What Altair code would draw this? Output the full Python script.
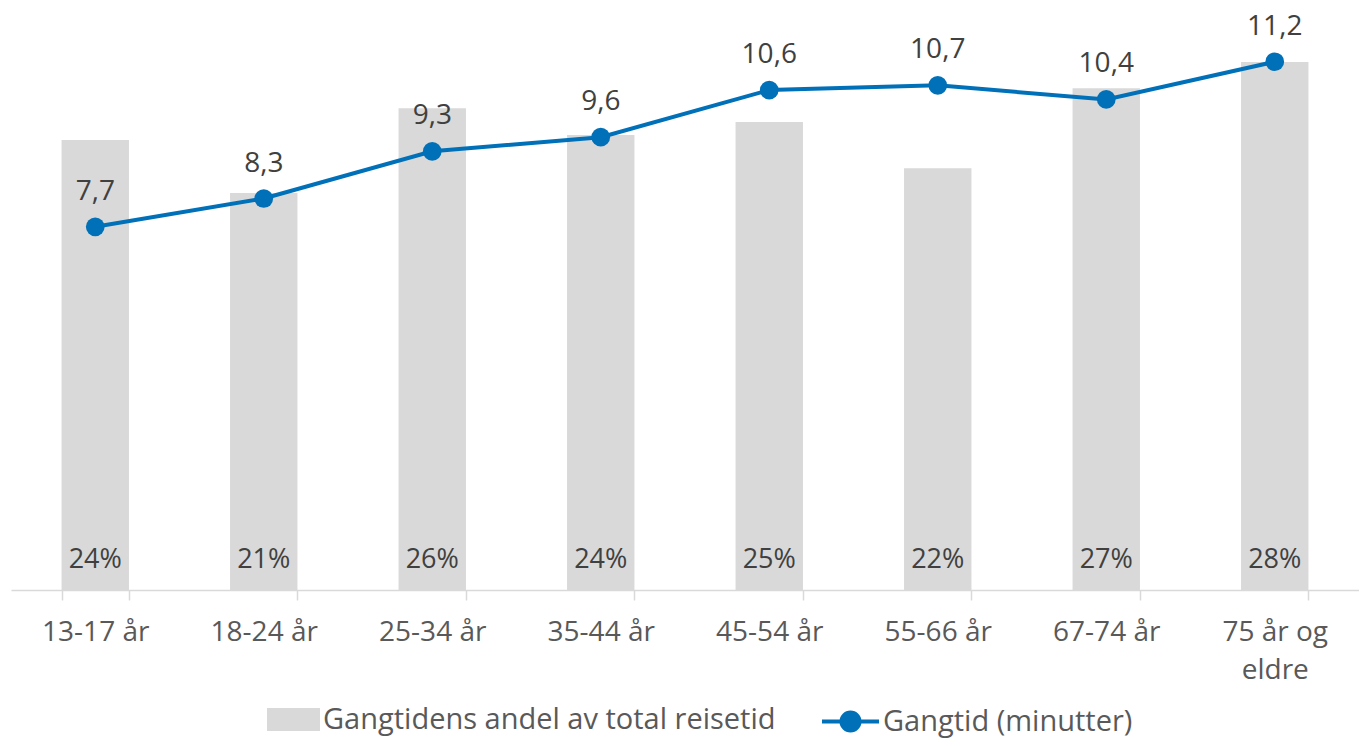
import altair as alt
import pandas as pd

categories = ["13-17 år", "18-24 år", "25-34 år", "35-44 år",
              "45-54 år", "55-66 år", "67-74 år", "75 år og eldre"]
share = [0.2385, 0.2104, 0.2554, 0.2411, 0.2480, 0.2236, 0.2660, 0.2798]
minutes = [7.7, 8.3, 9.3, 9.6, 10.6, 10.7, 10.4, 11.2]

bar_name = "Gangtidens andel av total reisetid"
line_name = "Gangtid (minutter)"

df = pd.DataFrame({"cat": categories, "share": share, "minutes": minutes,
                   "bar_s": bar_name, "line_s": line_name})

FONT = "Open Sans"
TXT = "#404040"
LBL = "#595959"
BLUE = "#0070B8"
GREY = "#D9D9D9"

x = alt.X("cat:N", sort=categories, title=None,
          scale=alt.Scale(paddingInner=0.6, paddingOuter=0.3),
          axis=alt.Axis(labelAngle=0, tickBand="extent", tickSize=10,
                        domainColor=GREY, tickColor=GREY, domainWidth=1.5, tickWidth=1.5,
                        labelFontSize=28, labelColor=LBL, labelFont=FONT,
                        labelPadding=18, labelLineHeight=38,
                        labelExpr="datum.label == '75 år og eldre' ? ['75 år og', 'eldre'] : datum.label"))

ybar = alt.Y("share:Q", scale=alt.Scale(domain=[0, 0.30]), axis=None)
yline = alt.Y("minutes:Q", scale=alt.Scale(domain=[0, 12]), axis=None)

base = alt.Chart(df)

bars = base.mark_bar(color=GREY).encode(
    x=x, y=ybar,
    color=alt.Color("bar_s:N", scale=alt.Scale(range=[GREY]),
                    legend=alt.Legend(title=None, orient="none", legendX=256, legendY=669,
                                      symbolType="M-1,-0.434H1V0.434H-1Z",
                                      symbolSize=2809, symbolStrokeWidth=0, labelLimit=0,
                                      labelOffset=3,
                                      labelFontSize=29, labelFont=FONT, labelColor=LBL)))

bar_text = base.transform_calculate(
    zero="0", lbl="format(datum.share, '.0%')"
).mark_text(font=FONT, fontSize=27, color=TXT, dy=-30).encode(
    x=x, y=alt.Y("zero:Q", scale=alt.Scale(domain=[0, 0.30]), axis=None),
    text="lbl:N")

bar_layer = alt.layer(bars, bar_text)

line = base.mark_line(color=BLUE, strokeWidth=4).encode(
    x=x, y=yline,
    stroke=alt.Stroke("line_s:N", scale=alt.Scale(range=[BLUE]),
                      legend=alt.Legend(title=None, orient="none", legendX=809, legendY=667,
                                        symbolType="M-1,0H1M-0.316,0A0.316,0.316 0 1,1 0.316,0A0.316,0.316 0 1,1 -0.316,0Z",
                                        symbolFillColor=BLUE, symbolStrokeWidth=4, symbolSize=3249,
                                        labelLimit=0, labelOffset=2,
                                        labelFontSize=29, labelFont=FONT, labelColor=LBL)))
points = base.mark_circle(color=BLUE, size=350, opacity=1).encode(x=x, y=yline)
line_text = base.transform_calculate(
    lbl="replace(format(datum.minutes, '.1f'), '.', ',')"
).mark_text(font=FONT, fontSize=28, color=TXT, dy=-35).encode(
    x=x, y=yline, text="lbl:N")

line_layer = alt.layer(line, points, line_text)

chart = alt.layer(bar_layer, line_layer).resolve_scale(
    y="independent", color="independent", stroke="independent"
).properties(
    width=1348, height=566,
    autosize=alt.AutoSizeParams(type="none"),
    padding={"left": 3, "top": 16, "right": 0, "bottom": 148}
).configure_view(stroke=None)

chart.save("out.html", embed_options={"renderer": "svg", "actions": False})
